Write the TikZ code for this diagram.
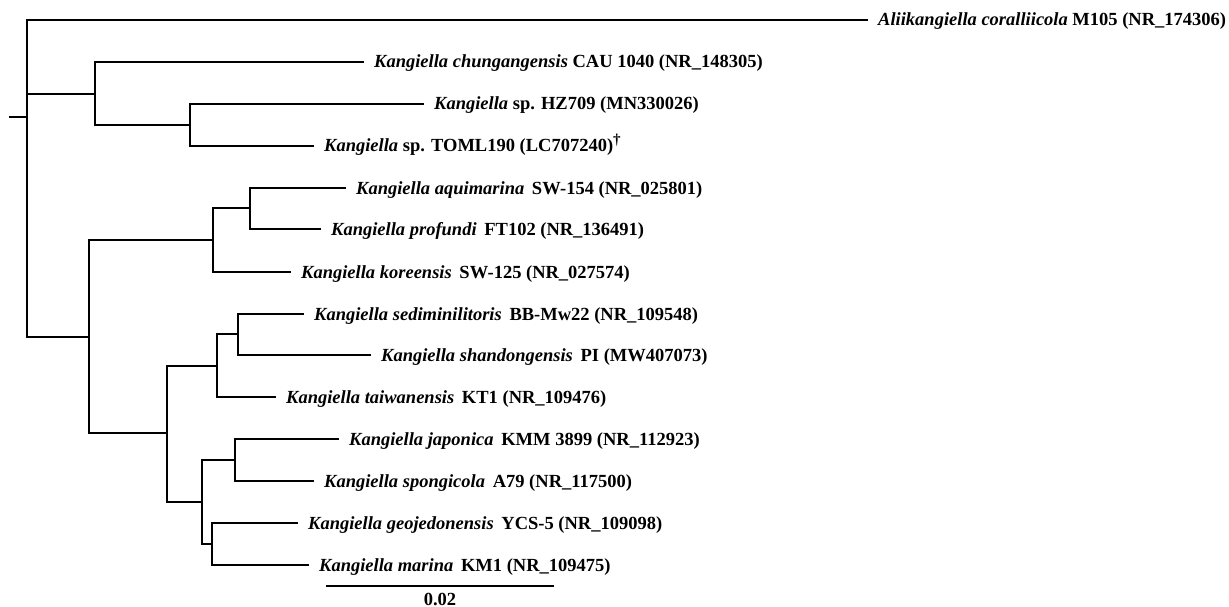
\documentclass[tikz,border=0pt]{standalone}
\usepackage{fontspec}
\setmainfont{Liberation Serif}
\newcommand{\taxon}[1]{{\bfseries\itshape #1}}
\begin{document}
\begin{tikzpicture}[x=1pt,y=-1pt,
  br/.style={line width=1.3pt,line cap=rect},
  leaf/.style={anchor=base west,inner sep=0pt,xshift=11pt,yshift=-6pt,font=\fontsize{18.5}{20}\selectfont\bfseries},
  sclab/.style={inner sep=0pt,font=\fontsize{18.5}{20}\selectfont\bfseries}]
\useasboundingbox (0,0) rectangle (1229,607);
% internal nodes
\coordinate (stub) at (10,117);
\coordinate (R) at (27,117);
\coordinate (A) at (95,94);
\coordinate (A1) at (190,125);
\coordinate (B) at (89,337);
\coordinate (B1) at (213,240);
\coordinate (B1a) at (250,208);
\coordinate (B2) at (167,433);
\coordinate (B2a) at (217,366);
\coordinate (B2a1) at (238,334);
\coordinate (B2b) at (202,502);
\coordinate (B2b1) at (235,460);
\coordinate (B2b2) at (212,544);
% tips
\coordinate (tali) at (867,20);
\coordinate (tchu) at (363,62);
\coordinate (thz) at (423,104);
\coordinate (ttoml) at (313,146);
\coordinate (taqu) at (345,188);
\coordinate (tpro) at (320,229);
\coordinate (tkor) at (290,272);
\coordinate (tsed) at (303,314);
\coordinate (tsha) at (370,355);
\coordinate (ttai) at (275,397);
\coordinate (tjap) at (338,439);
\coordinate (tspo) at (313,481);
\coordinate (tgeo) at (297,523);
\coordinate (tmar) at (308,565);
% labels
\node[leaf] (lali) at (tali) {\taxon{Aliikangiella coralliicola} M105 (NR\_174306)};
\node[leaf] (lchu) at (tchu) {\taxon{Kangiella chungangensis} CAU 1040 (NR\_148305)};
\node[leaf] (lhz) at (thz) {\taxon{Kangiella} sp. HZ709 (MN330026)};
\node[leaf] (ltoml) at (ttoml) {\taxon{Kangiella} sp. TOML190 (LC707240)\raisebox{0.42em}{\fontsize{15}{15}\selectfont\dag}};
\node[leaf] (laqu) at (taqu) {\taxon{Kangiella aquimarina}\, SW-154 (NR\_025801)};
\node[leaf] (lpro) at (tpro) {\taxon{Kangiella profundi}\, FT102 (NR\_136491)};
\node[leaf] (lkor) at (tkor) {\taxon{Kangiella koreensis}\, SW-125 (NR\_027574)};
\node[leaf] (lsed) at (tsed) {\taxon{Kangiella sediminilitoris}\, BB-Mw22 (NR\_109548)};
\node[leaf] (lsha) at (tsha) {\taxon{Kangiella shandongensis}\, PI (MW407073)};
\node[leaf] (ltai) at (ttai) {\taxon{Kangiella taiwanensis}\, KT1 (NR\_109476)};
\node[leaf] (ljap) at (tjap) {\taxon{Kangiella japonica}\, KMM 3899 (NR\_112923)};
\node[leaf] (lspo) at (tspo) {\taxon{Kangiella spongicola}\, A79 (NR\_117500)};
\node[leaf] (lgeo) at (tgeo) {\taxon{Kangiella geojedonensis}\, YCS-5 (NR\_109098)};
\node[leaf] (lmar) at (tmar) {\taxon{Kangiella marina}\, KM1 (NR\_109475)};
% branches
\draw[br] (stub) -- (R);
\draw[br] (R) |- (tali);
\draw[br] (R) |- (A);
\draw[br] (R) |- (B);
\draw[br] (A) |- (tchu);
\draw[br] (A) |- (A1);
\draw[br] (A1) |- (thz);
\draw[br] (A1) |- (ttoml);
\draw[br] (B) |- (B1);
\draw[br] (B) |- (B2);
\draw[br] (B1) |- (B1a);
\draw[br] (B1) |- (tkor);
\draw[br] (B1a) |- (taqu);
\draw[br] (B1a) |- (tpro);
\draw[br] (B2) |- (B2a);
\draw[br] (B2) |- (B2b);
\draw[br] (B2a) |- (B2a1);
\draw[br] (B2a) |- (ttai);
\draw[br] (B2a1) |- (tsed);
\draw[br] (B2a1) |- (tsha);
\draw[br] (B2b) |- (B2b1);
\draw[br] (B2b) |- (B2b2);
\draw[br] (B2b1) |- (tjap);
\draw[br] (B2b1) |- (tspo);
\draw[br] (B2b2) |- (tgeo);
\draw[br] (B2b2) |- (tmar);
% scale bar
\coordinate (s1) at (327,586);
\coordinate (s2) at (553,586);
\draw[br] (s1) -- (s2);
\node[sclab,anchor=base] (slab) at (440,605) {0.02};
\end{tikzpicture}
\end{document}
